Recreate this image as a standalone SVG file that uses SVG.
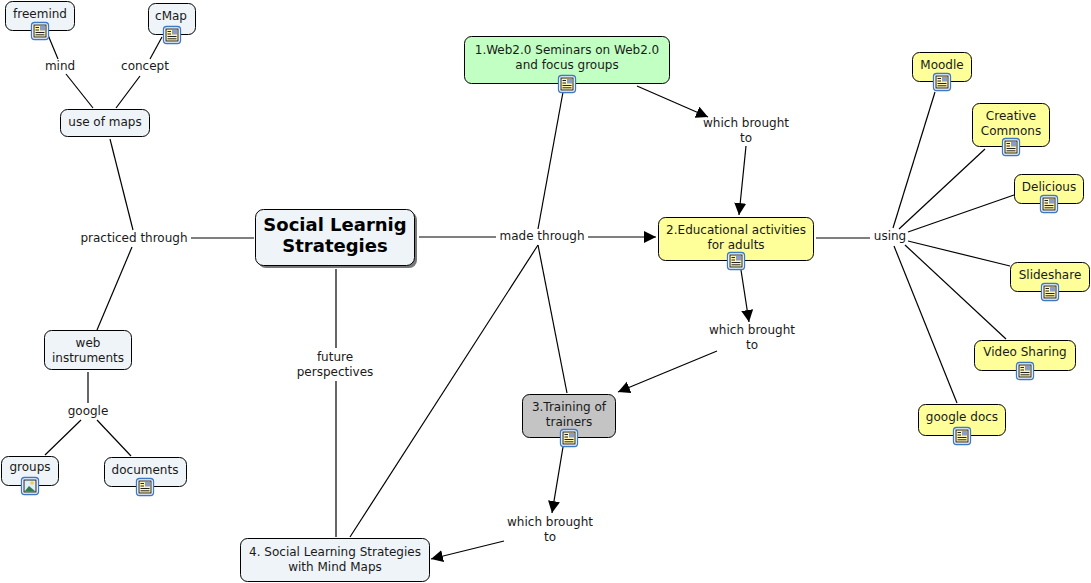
<svg xmlns="http://www.w3.org/2000/svg" xmlns:xlink="http://www.w3.org/1999/xlink" width="1091" height="583" viewBox="0 0 1091 583">
<style>
text{font-family:"DejaVu Sans",Verdana,sans-serif;font-size:12px;fill:#1a1a1a;text-anchor:middle}
.n{stroke:#000;stroke-width:1}
.b{fill:#EEF4F7}.y{fill:#FFFF99}.g{fill:#C2FFC2}.s{fill:#C4C4C4}
#connectors line{stroke:#000;stroke-width:1.2;fill:none}
.t{font-size:18px;font-weight:bold;fill:#000}
</style>
<defs>
<marker id="a" markerUnits="userSpaceOnUse" markerWidth="14" markerHeight="14" refX="12" refY="6" orient="auto"><path d="M0 0L12 6L0 12Z" fill="#000"/></marker>
<g id="doc"><rect x="-8.5" y="-8.5" width="17" height="17" rx="3" fill="#fff" stroke="#3C78C8" stroke-width="1.3"/><rect x="-6" y="-6" width="12" height="12" fill="#FFF6B0" stroke="#222" stroke-width="1"/><path d="M-4.5-3.5H-1M-4.5-1H-1M-4.5 1.5H4.5M-4.5 3.8H4.5" stroke="#222" stroke-width="1"/><rect x="0" y="-5" width="5" height="4.5" fill="#8C9CC8"/></g>
<g id="img"><rect x="-8.5" y="-8.5" width="17" height="17" rx="3" fill="#fff" stroke="#3C78C8" stroke-width="1.3"/><rect x="-6" y="-6" width="12" height="12" fill="#DDEEFA" stroke="#222" stroke-width="1"/><circle cx="2" cy="-3" r="1.8" fill="#F0D040"/><path d="M-5.5 5.5L-1 0L5.5 5.5Z" fill="#2E7D4F"/></g>
</defs>
<g id="connectors">
<line x1="48" y1="35" x2="58" y2="59"/><line x1="66" y1="74" x2="93" y2="108"/>
<line x1="162" y1="37" x2="150" y2="59"/><line x1="140" y1="76" x2="116" y2="108"/>
<line x1="110" y1="139" x2="133" y2="230"/><line x1="132" y1="247" x2="97" y2="330"/>
<line x1="191" y1="238" x2="254" y2="238"/>
<line x1="88" y1="372" x2="88" y2="403"/><line x1="81" y1="420" x2="45" y2="455"/><line x1="97" y1="420" x2="131" y2="456"/>
<line x1="336" y1="269" x2="336" y2="348"/><line x1="336" y1="381" x2="336" y2="537"/>
<line x1="419" y1="237" x2="496" y2="237"/><line x1="588" y1="237" x2="656" y2="237" marker-end="url(#a)"/>
<line x1="563" y1="92" x2="538" y2="229"/><line x1="538" y1="245" x2="567" y2="393"/>
<line x1="538" y1="245" x2="350" y2="537"/>
<line x1="637" y1="86" x2="708" y2="117" marker-end="url(#a)"/>
<line x1="746" y1="146" x2="739" y2="215" marker-end="url(#a)"/>
<line x1="741" y1="270" x2="749" y2="322" marker-end="url(#a)"/>
<line x1="717" y1="351" x2="618" y2="392" marker-end="url(#a)"/>
<line x1="563" y1="447" x2="552" y2="513" marker-end="url(#a)"/>
<line x1="504" y1="541" x2="431" y2="559" marker-end="url(#a)"/>
<line x1="816" y1="238" x2="870" y2="238"/>
<line x1="935" y1="92" x2="893" y2="228"/>
<line x1="985" y1="149" x2="899" y2="229"/>
<line x1="1014" y1="195" x2="908" y2="232"/>
<line x1="1010" y1="266" x2="908" y2="241"/>
<line x1="1006" y1="339" x2="905" y2="245"/>
<line x1="957" y1="403" x2="894" y2="246"/>
</g>
<text x="60" y="70">mind</text>
<text x="145" y="70">concept</text>
<text x="134" y="242">practiced through</text>
<text x="88" y="415">google</text>
<text x="335" y="361">future</text><text x="335" y="376">perspectives</text>
<text x="542" y="240">made through</text>
<text x="746" y="127">which brought</text><text x="746" y="142">to</text>
<text x="752" y="334">which brought</text><text x="752" y="349">to</text>
<text x="550" y="526">which brought</text><text x="550" y="541">to</text>
<text x="890" y="240">using</text>
<g id="freemind"><rect class="n b" x="5.5" y="1.5" width="69" height="29" rx="7"/><text x="40" y="18">freemind</text><use href="#doc" x="40" y="31"/></g>
<g id="cmap"><rect class="n b" x="148.5" y="3.5" width="47" height="31" rx="7"/><text x="171" y="20">cMap</text><use href="#doc" x="172" y="35"/></g>
<g id="use-of-maps"><rect class="n b" x="60.5" y="109.5" width="89" height="27" rx="7"/><text x="105" y="126">use of maps</text></g>
<g id="web-instruments"><rect class="n b" x="44.5" y="330.5" width="87" height="39" rx="7"/><text x="88" y="347">web</text><text x="88" y="362">instruments</text></g>
<g id="groups"><rect class="n b" x="1.5" y="456.5" width="57" height="29" rx="7"/><text x="30" y="471">groups</text><use href="#img" x="30" y="486"/></g>
<g id="documents"><rect class="n b" x="104.5" y="457.5" width="82" height="29" rx="7"/><text x="145" y="474">documents</text><use href="#doc" x="145" y="487"/></g>
<g id="social"><rect x="258" y="212" width="159" height="56" rx="8" fill="#777"/><rect class="n b" x="255.5" y="209.5" width="159" height="56" rx="8"/><text class="t" x="335" y="231">Social Learnig</text><text class="t" x="335" y="252">Strategies</text></g>
<g id="n4"><rect class="n b" x="240.5" y="538.5" width="189" height="43" rx="7"/><text x="335" y="556">4. Social Learning Strategies</text><text x="335" y="571">with Mind Maps</text></g>
<g id="n1"><rect class="n g" x="464.5" y="36.5" width="205" height="47" rx="7"/><text x="567" y="54">1.Web2.0 Seminars on Web2.0</text><text x="567" y="69">and focus groups</text><use href="#doc" x="567" y="84"/></g>
<g id="n2"><rect class="n y" x="658.5" y="217.5" width="155" height="43" rx="7"/><text x="736" y="234">2.Educational activities</text><text x="736" y="249">for adults</text><use href="#doc" x="736" y="261"/></g>
<g id="n3"><rect class="n s" x="522.5" y="394.5" width="93" height="43" rx="7"/><text x="569" y="411">3.Training of</text><text x="569" y="426">trainers</text><use href="#doc" x="569" y="438"/></g>
<g id="moodle"><rect class="n y" x="912.5" y="52.5" width="59" height="29" rx="7"/><text x="942" y="69">Moodle</text><use href="#doc" x="942" y="82"/></g>
<g id="cc"><rect class="n y" x="972.5" y="103.5" width="77" height="43" rx="7"/><text x="1011" y="120">Creative</text><text x="1011" y="135">Commons</text><use href="#doc" x="1011" y="147"/></g>
<g id="delicious"><rect class="n y" x="1014.5" y="174.5" width="69" height="29" rx="7"/><text x="1049" y="191">Delicious</text><use href="#doc" x="1049" y="204"/></g>
<g id="slideshare"><rect class="n y" x="1010.5" y="262.5" width="79" height="29" rx="7"/><text x="1050" y="279">Slideshare</text><use href="#doc" x="1050" y="292"/></g>
<g id="video"><rect class="n y" x="974.5" y="340.5" width="101" height="30" rx="7"/><text x="1025" y="356">Video Sharing</text><use href="#doc" x="1025" y="371"/></g>
<g id="gdocs"><rect class="n y" x="918.5" y="404.5" width="87" height="31" rx="7"/><text x="962" y="421">google docs</text><use href="#doc" x="962" y="436"/></g>
</svg>
